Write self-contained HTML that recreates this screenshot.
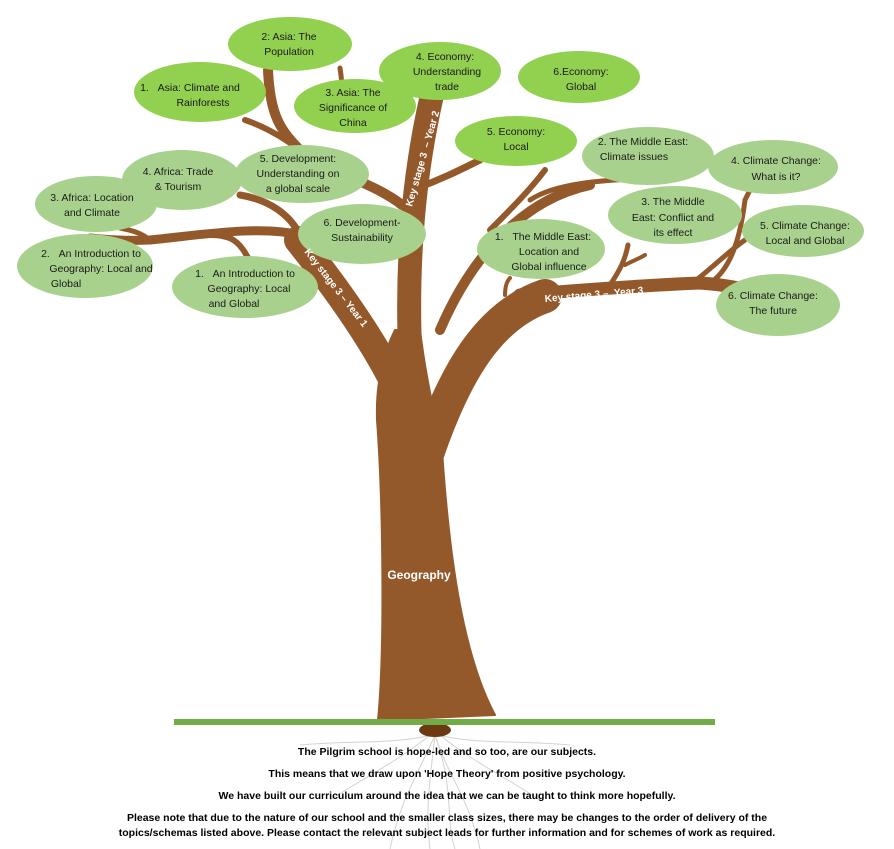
<!DOCTYPE html>
<html><head><meta charset="utf-8"><style>
body{margin:0;background:#fff;width:894px;height:849px;overflow:hidden;font-family:"Liberation Sans",sans-serif}
svg{display:block}
.t{font-family:"Liberation Sans",sans-serif;font-size:10.5px;fill:#1a1a1a;text-anchor:middle}
.k{font-family:"Liberation Sans",sans-serif;font-size:10px;fill:#fff;font-weight:bold}
.b{font-family:"Liberation Sans",sans-serif;font-size:10.5px;fill:#000;font-weight:bold;text-anchor:middle}
</style></head><body>
<svg width="894" height="849" viewBox="0 0 894 849">
<g stroke="#c8c8c8" stroke-width="1" fill="none" opacity="0.8">
<path d="M435 735 C420 770 400 800 390 849"/><path d="M435 735 C445 770 470 800 480 849"/>
<path d="M430 735 C400 760 360 780 330 800"/><path d="M440 735 C470 760 510 780 540 800"/>
<path d="M435 735 C430 780 425 810 430 849"/><path d="M435 735 C455 790 445 820 455 849"/>
<path d="M432 735 C390 745 350 740 300 745"/><path d="M438 735 C480 745 520 740 570 745"/>
</g>
<g fill="#94592b" stroke="#94592b" stroke-linecap="round" stroke-linejoin="round">
<path d="M378 720 C385 650 383 500 377 420 C376 390 380 360 395 330 L420 330 C426 380 436 420 442 450 C448 540 460 650 495 715 Z" stroke-width="2"/>
<g fill="none">
<path d="M402 400 C385 360 350 305 298 240" stroke-width="28"/>
<path d="M412 390 C406 300 408 200 432 95" stroke-width="24"/>
<path d="M425 460 C455 370 490 315 545 296" stroke-width="34"/>
<path d="M300 235 C260 225 200 235 150 240 C130 241 110 240 90 238" stroke-width="9"/>
<path d="M150 240 C140 232 130 230 120 228" stroke-width="5"/>
<path d="M210 235 C230 235 240 240 250 262" stroke-width="6"/>
<path d="M300 235 C290 215 270 200 240 195" stroke-width="7"/>
<path d="M402 205 C370 180 320 170 300 150 C280 130 270 115 268 70" stroke-width="10"/>
<path d="M300 150 C280 135 260 125 245 120" stroke-width="6"/>
<path d="M330 128 C340 115 345 100 340 68" stroke-width="5"/>
<path d="M412 190 C440 180 460 170 480 160" stroke-width="7"/>
<path d="M440 330 C470 260 520 200 590 185" stroke-width="10"/>
<path d="M490 230 C510 210 530 190 545 170" stroke-width="6"/>
<path d="M530 200 C560 180 620 180 650 178" stroke-width="5"/>
<path d="M520 295 C580 290 650 285 700 283 C730 285 750 290 765 295" stroke-width="13"/>
<path d="M690 285 C710 270 730 250 745 240" stroke-width="5"/>
<path d="M710 283 C730 270 740 240 745 200 L750 190" stroke-width="5"/>
<path d="M610 285 C620 270 625 260 628 245" stroke-width="5"/>
<path d="M625 265 C635 260 640 258 645 255" stroke-width="4"/>
<path d="M505 295 C505 285 508 280 510 278" stroke-width="4"/>
</g>
</g>
<ellipse cx="435" cy="730" rx="16" ry="7" fill="#6b3a12"/>
<rect x="174" y="719" width="541" height="6" fill="#70ad47"/>
<g fill="#92d050">
<ellipse cx="200" cy="92" rx="66" ry="30"/>
<ellipse cx="290" cy="44" rx="62" ry="27"/>
<ellipse cx="355" cy="106" rx="61" ry="27"/>
<ellipse cx="440" cy="71" rx="61" ry="29"/>
<ellipse cx="579" cy="77" rx="61" ry="26"/>
<ellipse cx="516" cy="141" rx="61" ry="25"/>
</g>
<g fill="#a9d18e">
<ellipse cx="182" cy="180" rx="60" ry="30"/>
<ellipse cx="302" cy="174" rx="67" ry="29"/>
<ellipse cx="96" cy="204" rx="61" ry="28"/>
<ellipse cx="362" cy="234" rx="64" ry="30"/>
<ellipse cx="85" cy="266" rx="68" ry="32"/>
<ellipse cx="245" cy="287" rx="73" ry="31"/>
<ellipse cx="648" cy="156" rx="66" ry="29"/>
<ellipse cx="541" cy="249" rx="64" ry="30"/>
<ellipse cx="675" cy="215" rx="67" ry="29"/>
<ellipse cx="773" cy="167" rx="65" ry="27"/>
<ellipse cx="803" cy="231" rx="61" ry="26"/>
<ellipse cx="778" cy="305" rx="62" ry="31"/>
</g>
<g class="t">
<text x="190" y="91" class="t">1.&#160;&#160;&#160;Asia: Climate and</text><text x="203" y="106" class="t">Rainforests</text>
<text x="289" y="40" class="t">2: Asia: The</text><text x="289" y="55" class="t">Population</text>
<text x="353" y="96" class="t">3. Asia: The</text><text x="353" y="111" class="t">Significance of</text><text x="353" y="126" class="t">China</text>
<text x="445" y="60" class="t">4. Economy:</text><text x="447" y="75" class="t">Understanding</text><text x="447" y="90" class="t">trade</text>
<text x="581" y="75" class="t">6.Economy:</text><text x="581" y="90" class="t">Global</text>
<text x="516" y="135" class="t">5. Economy:</text><text x="516" y="150" class="t">Local</text>
<text x="178" y="175" class="t">4. Africa: Trade</text><text x="178" y="190" class="t">&amp; Tourism</text>
<text x="298" y="162" class="t">5. Development:</text><text x="298" y="177" class="t">Understanding on</text><text x="298" y="192" class="t">a global scale</text>
<text x="92" y="201" class="t">3. Africa: Location</text><text x="92" y="216" class="t">and Climate</text>
<text x="362" y="226" class="t">6. Development-</text><text x="362" y="241" class="t">Sustainability</text>
<text x="91" y="257" class="t">2.&#160;&#160;&#160;An Introduction to</text><text x="101" y="272" class="t">Geography: Local and</text><text x="66" y="287" class="t">Global</text>
<text x="245" y="277" class="t">1.&#160;&#160;&#160;An Introduction to</text><text x="249" y="292" class="t">Geography: Local</text><text x="234" y="307" class="t">and Global</text>
<text x="643" y="145" class="t">2. The Middle East:</text><text x="634" y="160" class="t">Climate issues</text>
<text x="543" y="240" class="t">1.&#160;&#160;&#160;The Middle East:</text><text x="549" y="255" class="t">Location and</text><text x="549" y="270" class="t">Global influence</text>
<text x="673" y="205" class="t">3. The Middle</text><text x="673" y="221" class="t">East: Conflict and</text><text x="673" y="236" class="t">its effect</text>
<text x="776" y="164" class="t">4. Climate Change:</text><text x="776" y="180" class="t">What is it?</text>
<text x="805" y="229" class="t">5. Climate Change:</text><text x="805" y="244" class="t">Local and Global</text>
<text x="773" y="299" class="t">6. Climate Change:</text><text x="773" y="314" class="t">The future</text>
</g>
<text class="k" transform="translate(304,252) rotate(52)">Key stage 3 – Year 1</text>
<text class="k" transform="translate(412,207) rotate(-74)">Key stage 3&#160;&#160;– Year 2</text>
<text class="k" transform="translate(545,302) rotate(-5)">Key stage 3 –&#160;&#160;Year 3</text>
<text x="419" y="579" class="k" style="font-size:12px;text-anchor:middle">Geography</text>
<text x="447" y="755" class="b">The Pilgrim school is hope-led and so too, are our subjects.</text>
<text x="447" y="777" class="b">This means that we draw upon 'Hope Theory' from positive psychology.</text>
<text x="447" y="799" class="b">We have built our curriculum around the idea that we can be taught to think more hopefully.</text>
<text x="447" y="821" class="b">Please note that due to the nature of our school and the smaller class sizes, there may be changes to the order of delivery of the</text>
<text x="447" y="836" class="b">topics/schemas listed above. Please contact the relevant subject leads for further information and for schemes of work as required.</text>
</svg>
</body></html>
